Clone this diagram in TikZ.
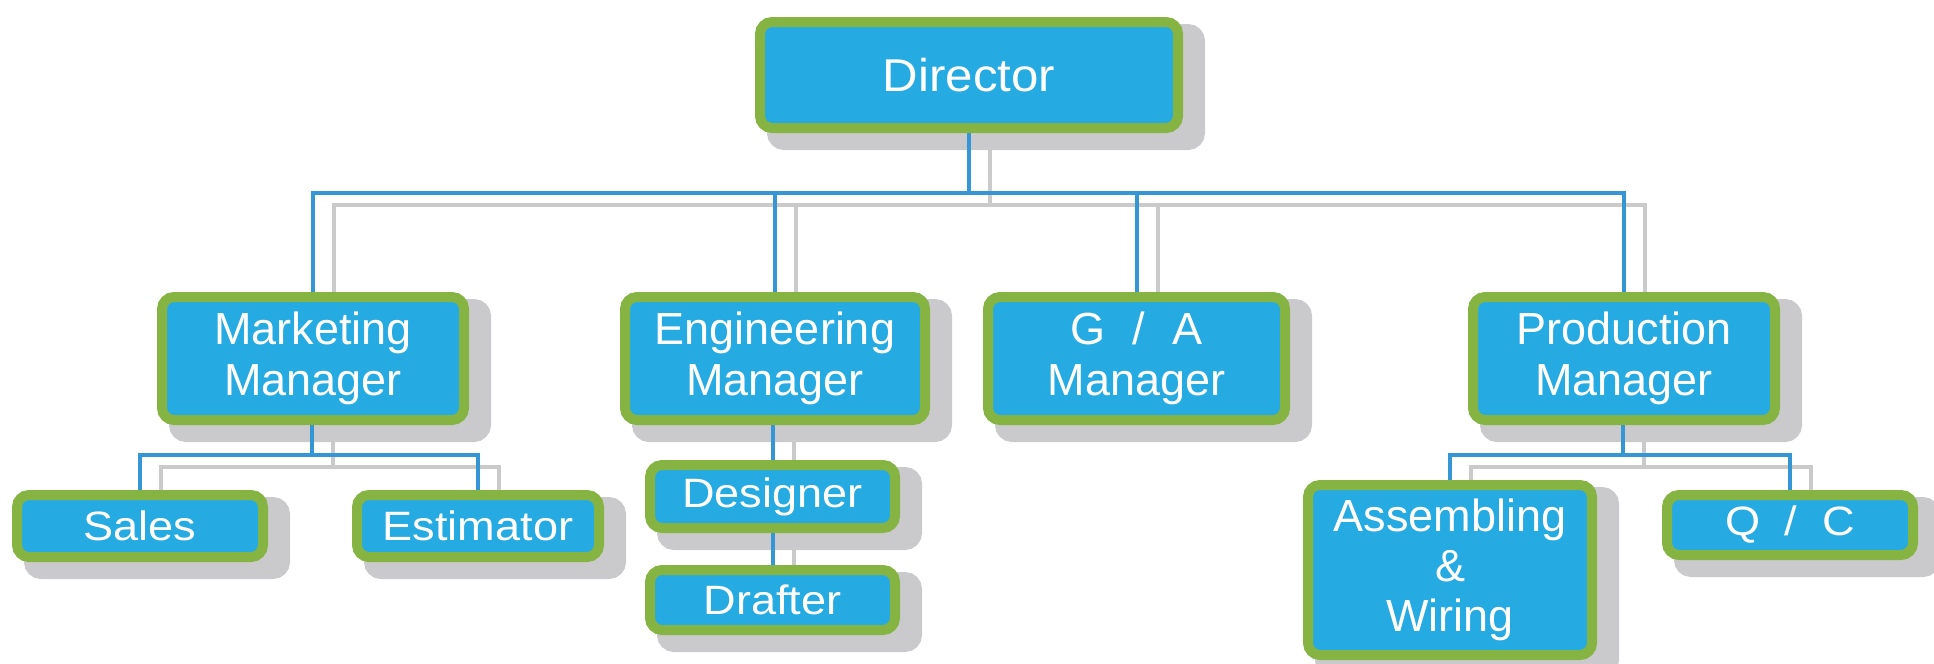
\documentclass[tikz,border=0pt]{standalone}
\usepackage{fontspec}
\setmainfont{Liberation Sans}
\newfontfamily\widesans[FakeStretch=1.1]{Liberation Sans}
\newfontfamily\dirsans[FakeStretch=1.07]{Liberation Sans}
\usetikzlibrary{calc}
\pgfdeclarelayer{bg}
\pgfdeclarelayer{wires}
\pgfsetlayers{bg,wires,main}

\definecolor{boxfill}{RGB}{38,170,226}
\definecolor{boxedge}{RGB}{134,180,66}
\definecolor{shade}{RGB}{202,202,204}
\definecolor{linkblue}{RGB}{52,150,212}
\definecolor{linkgray}{RGB}{202,202,202}

\tikzset{
  orgbox/.style={draw=boxedge, line width=5pt, fill=boxfill, rounded corners=6pt,
    text=white, align=center, inner sep=0pt},
  bigtext/.style={font={\fontsize{22.5}{25.5}\selectfont}},
  dirtext/.style={font={\dirsans\fontsize{23}{23}\selectfont}},
  smalltext/.style={font={\widesans\fontsize{20.5}{20.5}\selectfont}},
  talltext/.style={font={\fontsize{22.5}{25}\selectfont}},
  bluelink/.style={draw=linkblue, line width=2pt},
  graylink/.style={draw=linkgray, line width=2pt},
  shadowbox/.style={fill=shade, draw=shade, line width=5pt, rounded corners=6pt},
}

\newcommand\orgwires[2]{%
  \draw[#1] ($(dir.south)+#2$) -- ($(bus)+#2$);
  \draw[#1] ($(mkt.north)+#2$) |- ($(prod.north |- bus)+#2$) -- ($(prod.north)+#2$);
  \draw[#1] ($(eng.north)+#2$) -- ($(eng.north |- bus)+#2$);
  \draw[#1] ($(ga.north)+#2$) -- ($(ga.north |- bus)+#2$);
  \draw[#1] ($(mkt.south -| mbus)+#2$) -- ($(mbus)+#2$);
  \draw[#1] ($(sal.north)+#2$) |- ($(est.north |- mbus)+#2$) -- ($(est.north)+#2$);
  \draw[#1] ($(eng.south -| des.north)+#2$) -- ($(dra.north)+#2$);
  \draw[#1] ($(prod.south -| pbus)+#2$) -- ($(pbus)+#2$);
  \draw[#1] ($(asm.north)+#2$) |- ($(qc.north |- pbus)+#2$) -- ($(qc.north)+#2$);
}

\begin{document}
\begin{tikzpicture}[x=0.5pt,y=-0.5pt]
\useasboundingbox (0,0) rectangle (1934,664);

% boxes
\node[orgbox,dirtext,minimum width=209pt,minimum height=53pt] (dir) at (969,75) {Director};
\node[orgbox,bigtext,minimum width=151pt,minimum height=61.5pt] (mkt) at (313,358.5) {Marketing\\Manager};
\node[orgbox,bigtext,minimum width=150pt,minimum height=61.5pt] (eng) at (775,358.5) {Engineering\\Manager};
\node[orgbox,bigtext,minimum width=148.5pt,minimum height=61.5pt] (ga) at (1136.5,358.5) {{\spaceskip=0.6em G / A}\\Manager};
\node[orgbox,bigtext,minimum width=151pt,minimum height=61.5pt] (prod) at (1624,358.5) {Production\\Manager};
\node[orgbox,smalltext,minimum width=123pt,minimum height=31pt] (sal) at (140,526) {Sales};
\node[orgbox,smalltext,minimum width=121pt,minimum height=31pt] (est) at (478,526) {Estimator};
\node[orgbox,smalltext,minimum width=122.5pt,minimum height=31.5pt] (des) at (772.5,496.5) {Designer};
\node[orgbox,smalltext,minimum width=122.5pt,minimum height=30pt] (dra) at (772.5,600) {Drafter};
\node[orgbox,talltext,minimum width=142pt,minimum height=85pt] (asm) at (1450,570) {Assembling\\\&\\Wiring};
\node[orgbox,smalltext,minimum width=123pt,minimum height=30pt] (qc) at (1790,525) {{\spaceskip=0.6em Q / C}};

% bus points
\coordinate (bus) at (969,193);
\coordinate (mbus) at (312,455);
\coordinate (pbus) at (1623,455);

% shadows
\begin{pgfonlayer}{bg}
\foreach \n in {dir,mkt,eng,ga,prod,sal,est,des,dra,asm,qc}
  \path[shadowbox] ($(\n.north west)+(17,12)$) rectangle ($(\n.south east)+(17,12)$);
\end{pgfonlayer}

% connectors
\begin{pgfonlayer}{wires}
\orgwires{graylink}{(21,12)}
\orgwires{bluelink}{(0,0)}
\end{pgfonlayer}
\end{tikzpicture}
\end{document}
